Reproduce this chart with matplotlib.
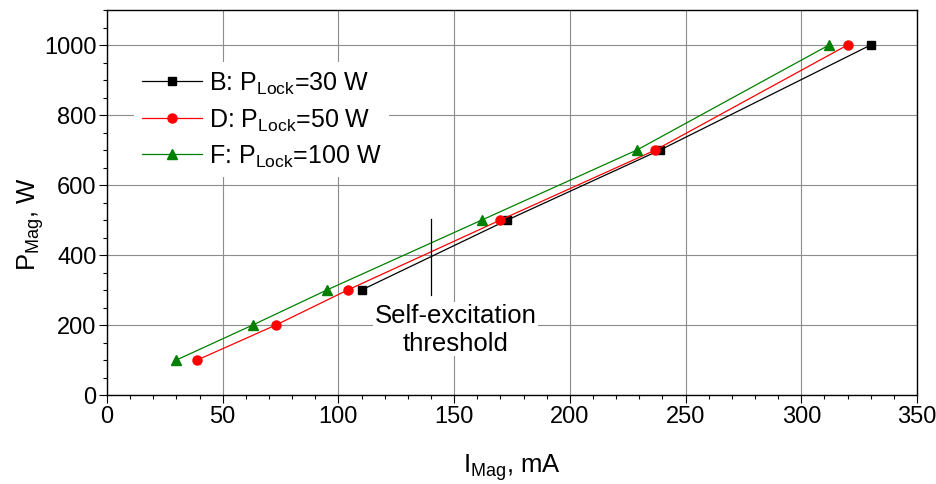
import matplotlib
matplotlib.use("Agg")
import matplotlib.pyplot as plt
from matplotlib.ticker import MultipleLocator

plt.rcParams['font.family'] = ['Liberation Sans', 'DejaVu Sans']
plt.rcParams['mathtext.fontset'] = 'custom'
plt.rcParams['mathtext.rm'] = 'Liberation Sans'
plt.rcParams['mathtext.it'] = 'Liberation Sans'
plt.rcParams['mathtext.default'] = 'regular'

# Magnetron current (mA) vs. output power (W) for three locking powers
i_b = [110, 173, 239, 330]
p_b = [300, 500, 700, 1000]

i_d = [39, 73, 104, 170, 237, 320]
p_d = [100, 200, 300, 500, 700, 1000]

i_f = [30, 63, 95, 162, 229, 312]
p_f = [100, 200, 300, 500, 700, 1000]

labels = [r'B: $P_{Lock}$=30 W', r'D: $P_{Lock}$=50 W', r'F: $P_{Lock}$=100 W']

threshold_i = 140
threshold_p = [285, 503]

fig = plt.figure(figsize=(9.37, 4.85), dpi=100)
ax = fig.add_axes([107 / 937, 1 - 396 / 485, 810 / 937, 385 / 485])

fs = 17
fs_big = 18.5
fs_leg = 18

ax.plot(i_b, p_b, color='black', lw=0.9, marker='s', ms=5.5, label=labels[0], zorder=3)
ax.plot(i_d, p_d, color='#ff0000', lw=0.9, marker='o', ms=6.5, label=labels[1], zorder=3)
ax.plot(i_f, p_f, color='#008000', lw=0.9, marker='^', ms=7, label=labels[2], zorder=3)

ax.plot([threshold_i, threshold_i], threshold_p, color='black', lw=0.9, zorder=3)
ax.text(150.5, 189, 'Self-excitation\nthreshold', ha='center', va='center', fontsize=fs_big,
        bbox=dict(facecolor='white', edgecolor='none', pad=1), zorder=2.5)

ax.set_xlim(0, 350)
ax.set_ylim(0, 1100)
ax.xaxis.set_major_locator(MultipleLocator(50))
ax.xaxis.set_minor_locator(MultipleLocator(10))
ax.yaxis.set_major_locator(MultipleLocator(200))
ax.yaxis.set_minor_locator(MultipleLocator(50))

ax.grid(True, which='major', color='#8c8c8c', lw=0.8, zorder=0)
ax.set_axisbelow(True)

ax.tick_params(which='major', direction='out', length=5.5, width=0.8, labelsize=fs, pad=2)
ax.tick_params(which='minor', direction='out', length=3, width=0.8)
ax.tick_params(top=False, right=False, which='both')
for s in ax.spines.values():
    s.set_linewidth(1.0)

ax.set_xlabel(r'$I_{Mag}$, mA', fontsize=fs_big)
ax.set_ylabel(r'$P_{Mag}$, W', fontsize=fs_big)
ax.xaxis.set_label_coords(0.5, -0.145)
ax.yaxis.set_label_coords(-0.075, 0.447)

leg = ax.legend(loc='upper left', bbox_to_anchor=(0.018, 0.897), fontsize=fs_leg,
                frameon=True, framealpha=1, facecolor='white', edgecolor='none',
                handlelength=2.4, handletextpad=0.3, labelspacing=0.42,
                numpoints=1, borderpad=0.3, fancybox=False)
leg.set_zorder(4)

fig.savefig('out.png', dpi=100)
